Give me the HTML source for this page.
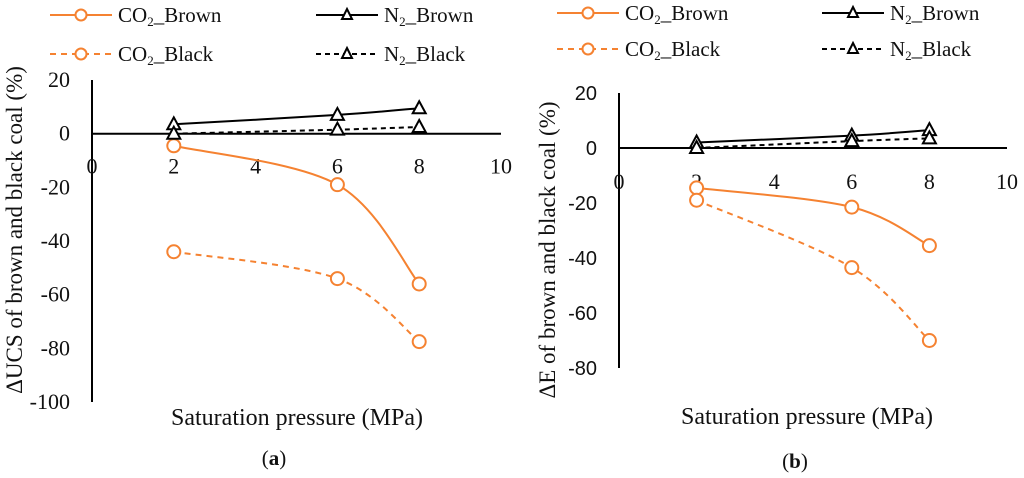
<!DOCTYPE html>
<html><head><meta charset="utf-8"><style>
body{margin:0;background:#fff;width:1024px;height:478px;overflow:hidden}
svg{display:block}
text{font-family:"Liberation Serif",serif;fill:#111}
</style></head><body>
<svg id="svg" width="1024" height="478"></svg>
<script>
const xVals=[2,6,8];
const aCO2Brown=[-4.5,-19,-56];
const aCO2Black=[-44,-54,-77.5];
const aN2Brown=[3.5,7,9.5];
const aN2Black=[0,1.5,2.5];
const bCO2Brown=[-14.5,-21.5,-35.5];
const bCO2Black=[-19,-43.5,-70];
const bN2Brown=[2,4.5,6.5];
const bN2Black=[0,2.5,3.5];
const xTicks=[0,2,4,6,8,10];
const aYTicks=[20,0,-20,-40,-60,-80,-100];
const bYTicks=[20,0,-20,-40,-60,-80];
const NS="http://www.w3.org/2000/svg";
const svg=document.getElementById('svg');
const OR="#f58231";
function el(t,a,p){const e=document.createElementNS(NS,t);for(const k in a)e.setAttribute(k,a[k]);(p||svg).appendChild(e);return e;}
function smooth(pts){let d=`M${pts[0][0]},${pts[0][1]}`;for(let i=0;i<pts.length-1;i++){const p0=pts[i-1]||pts[i],p1=pts[i],p2=pts[i+1],p3=pts[i+2]||p2;const c1=[p1[0]+(p2[0]-p0[0])/6,p1[1]+(p2[1]-p0[1])/6],c2=[p2[0]-(p3[0]-p1[0])/6,p2[1]-(p3[1]-p1[1])/6];d+=` C${c1[0]},${c1[1]} ${c2[0]},${c2[1]} ${p2[0]},${p2[1]}`;}return d;}
function tri(g,x,y,name){const t=el('path',{d:`M${x},${y-7} L${x+6.5},${y+5} L${x-6.5},${y+5} Z`,fill:'#fff',stroke:'#000','stroke-width':2},g);
}
function circ(g,x,y,name){const c=el('circle',{cx:x,cy:y,r:6.5,fill:'#fff',stroke:OR,'stroke-width':2},g);
}
function chart(o){
 const g=el('g',{});
 const X=v=>o.x0+(v)*o.xs, Y=v=>o.y0-(v)*o.ys;
 const ya=el('line',{x1:o.x0,x2:o.x0,y1:Y(o.yt[0]),y2:Y(o.yt[o.yt.length-1]),stroke:'#000','stroke-width':2},g);
 
 const xa=el('line',{x1:o.x0,x2:X(10),y1:Y(0),y2:Y(0),stroke:'#000','stroke-width':2},g);
 
 o.yt.forEach(v=>{const t=el('text',{x:o.x0-o.ylo,y:Y(v)+7,'text-anchor':'end','font-size':o.yfs,style:`font-family:${o.yf}`},g);t.textContent=v;
  });
 xTicks.forEach(v=>{const t=el('text',{x:X(v),y:Y(0)+o.xlo,'text-anchor':'middle','font-size':22},g);t.textContent=v;
  });
 const ser=[[o.cb,OR,null,'co2-brown'],[o.ck,OR,'6,5','co2-black'],[o.nb,'#000',null,'n2-brown'],[o.nk,'#000','5,4','n2-black']];
 ser.forEach(([vals,col,dash,nm])=>{const pts=xVals.map((x,i)=>[X(x),Y(vals[i])]);
  const p=el('path',{d:smooth(pts),fill:'none',stroke:col,'stroke-width':2,'stroke-dasharray':dash||'none'},g);
  
  pts.forEach(q=>col==='#000'?tri(g,q[0],q[1],nm+'-marker'):circ(g,q[0],q[1],nm+'-marker'));});
 const yt=el('text',{x:0,y:0,'text-anchor':'middle','font-size':23,transform:`translate(${o.ytx},${o.yty}) rotate(-90)`},g);yt.textContent=o.ytitle;
 
 const xt=el('text',{x:o.xtx,y:o.xty,'text-anchor':'middle','font-size':24},g);xt.textContent='Saturation pressure (MPa)';
 
 const cap=el('text',{x:o.capx,y:o.capy,'text-anchor':'middle','font-size':21},g);cap.innerHTML='(<tspan font-weight="bold">'+o.id+'</tspan>)';
 
 const L=o.leg;
 [[L.x1,L.r1,OR,null,'c','CO','_Brown'],[L.x2,L.r1,'#000',null,'t','N','_Brown'],[L.x1,L.r2,OR,'6,5','c','CO','_Black'],[L.x2,L.r2,'#000','5,4','t','N','_Black']].forEach(([lx,ly,col,dash,m,a,b])=>{
  const lg=el('g',{},g);
  el('line',{x1:lx,x2:lx+62,y1:ly,y2:ly,stroke:col,'stroke-width':2,'stroke-dasharray':dash||'none'},lg);
  if(m==='c')el('circle',{cx:lx+31,cy:ly,r:5.5,fill:'#fff',stroke:OR,'stroke-width':2},lg);else el('path',{d:`M${lx+31},${ly-6} L${lx+36},${ly+4} L${lx+26},${ly+4} Z`,fill:'#fff',stroke:'#000','stroke-width':2},lg);
  const t=el('text',{x:lx+68,y:ly+7,'font-size':21},lg);t.innerHTML=a+'<tspan font-size="13" dy="4">2</tspan><tspan dy="-4">'+b+'</tspan>';});
}
chart({id:'a',x0:92,xs:40.9,y0:133.7,ys:2.683,yt:aYTicks,cb:aCO2Brown,ck:aCO2Black,nb:aN2Brown,nk:aN2Black,ylo:22,xlo:40,yf:'"Liberation Serif",serif',yfs:22,
 ytitle:'ΔUCS of brown and black coal (%)',ytx:22,yty:230,xtx:297,xty:425,capx:274,capy:465,leg:{x1:50,x2:316,r1:15,r2:54}});
chart({id:'b',x0:619,xs:38.8,y0:148,ys:2.75,yt:bYTicks,cb:bCO2Brown,ck:bCO2Black,nb:bN2Brown,nk:bN2Black,ylo:22,xlo:41,yf:'"Liberation Sans",sans-serif',yfs:20,
 ytitle:'ΔE of brown and  black coal (%)',ytx:555,yty:250,xtx:807,xty:424,capx:795,capy:468,leg:{x1:557,x2:822,r1:13,r2:49}});
</script>
</body></html>
